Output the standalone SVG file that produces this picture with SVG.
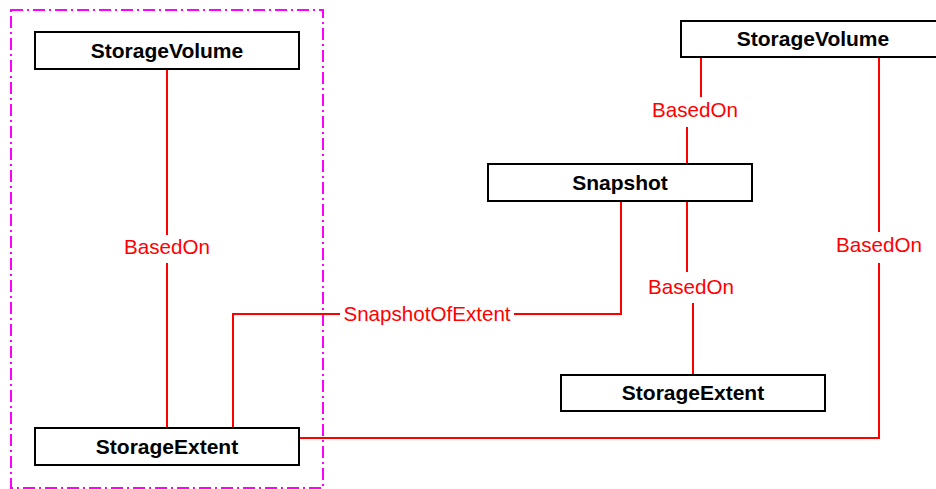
<svg xmlns="http://www.w3.org/2000/svg" width="936" height="489" viewBox="0 0 936 489">
<style>
.node{fill:#fff;stroke:#000;stroke-width:2}
.nt{font-family:"Liberation Sans",Arial,sans-serif;font-weight:bold;font-size:21px;fill:#000;text-anchor:middle}
.conn{fill:none;stroke:#f00;stroke-width:2}
.lbl{font-family:"Liberation Sans",Arial,sans-serif;font-size:20.6px;fill:#f00;text-anchor:middle}
.frame{fill:none;stroke:#f0f;stroke-width:2;stroke-dasharray:12 4 2 4}
</style>
<rect width="936" height="489" fill="#fff"/>
<rect class="frame" x="11" y="10" width="312" height="478"/>
<g id="connectors">
<path class="conn" d="M167 69V235M167 263V428"/>
<text class="lbl" x="167" y="254">BasedOn</text>
<path class="conn" d="M233 428V314H340M514 314H621V201"/>
<text class="lbl" x="427" y="321">SnapshotOfExtent</text>
<path class="conn" d="M701 57V97M687 127V165"/>
<text class="lbl" x="695" y="117">BasedOn</text>
<path class="conn" d="M687 201V272M693 303V375"/>
<text class="lbl" x="691" y="294">BasedOn</text>
<path class="conn" d="M299 438H879V263M879 232V57"/>
<text class="lbl" x="879" y="252">BasedOn</text>
</g>
<g id="sv1">
<rect class="node" x="35" y="32" width="264" height="37"/>
<text class="nt" x="167" y="58">StorageVolume</text>
</g>
<g id="se1">
<rect class="node" x="35" y="428" width="264" height="37"/>
<text class="nt" x="167" y="454">StorageExtent</text>
</g>
<g id="sv2">
<rect class="node" x="681" y="21" width="264" height="36"/>
<text class="nt" x="813" y="46">StorageVolume</text>
</g>
<g id="snap">
<rect class="node" x="488" y="164" width="264" height="37"/>
<text class="nt" x="620" y="190">Snapshot</text>
</g>
<g id="se2">
<rect class="node" x="561" y="375" width="264" height="36"/>
<text class="nt" x="693" y="400">StorageExtent</text>
</g>
</svg>
